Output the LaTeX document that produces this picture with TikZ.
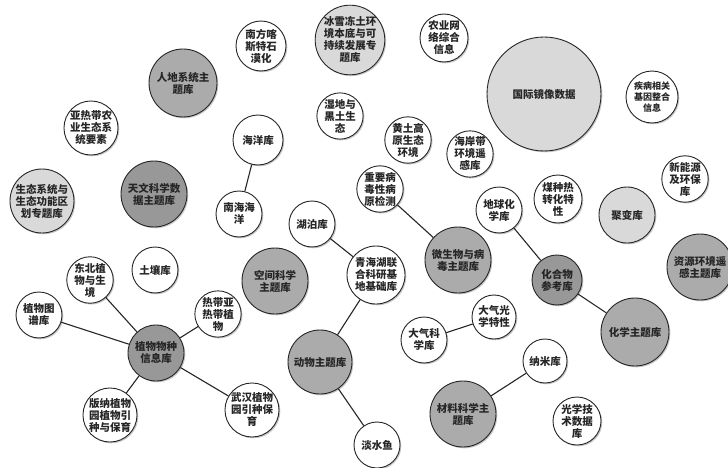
\documentclass[tikz,border=0pt]{standalone}
\usepackage{fontspec}
\newfontfamily\cjk{Noto Sans CJK SC}
\usetikzlibrary{shadows}
\definecolor{gdark}{HTML}{989898}
\definecolor{gmid}{HTML}{ABABAB}
\definecolor{glight}{HTML}{D9D9D9}
\tikzset{
  bub/.style={circle, draw=black!85, line width=0.9pt, inner sep=0pt, align=center,
    font=\cjk\bfseries\fontsize{10.5}{12}\selectfont, text=black!85,
    drop shadow={shadow xshift=1.3pt, shadow yshift=-1.3pt, fill=black, opacity=0.22}},
  wb/.style={bub, fill=white},
  mb/.style={bub, fill=gmid},
  db/.style={bub, fill=gdark},
  lb/.style={bub, fill=glight},
  link/.style={draw=black!85, line width=1.1pt},
}
\newcommand{\bb}[6]{\node[#1, minimum size=#5*2pt] (#2) at (#3,#4) {#6};}
\begin{document}
\begin{tikzpicture}[x=1pt,y=-1pt]
\fill[white] (0,0) rectangle (728,468);
\useasboundingbox (0,0) rectangle (728,468);
\bb{mb}{rendi}{183}{83}{34}{人地系统主\\题库}
\bb{wb}{yare}{91}{128}{27}{亚热带农\\业生态系\\统要素}
\bb{wb}{nanfang}{261}{46}{25}{南方喀\\斯特石\\漠化}
\bb{lb}{bingxue}{350}{40}{34}{冰雪冻土环\\境本底与可\\持续发展专\\题库}
\bb{wb}{nongye}{444}{38}{24}{农业网\\络综合\\信息}
\bb{lb}{guoji}{544}{94}{57}{国际镜像数据}
\node[wb, minimum size=52pt, font=\cjk\bfseries\fontsize{9}{11}\selectfont] (jibing) at (652,97) {疾病相关\\基因整合\\信息};
\bb{wb}{shidi}{340}{116}{23}{湿地与\\黑土生\\态}
\bb{wb}{haiyang}{258}{140}{25}{海洋库}
\bb{wb}{nanhai}{239}{214}{23}{南海海\\洋}
\bb{wb}{huangtu}{408}{140}{23}{黄土高\\原生态\\环境}
\bb{wb}{haian}{470}{154}{22}{海岸带\\环境遥\\感库}
\bb{lb}{shengtai}{42}{201}{32}{生态系统与\\生态功能区\\划专题库}
\bb{db}{tianwen}{154}{194}{33}{天文科学数\\据主题库}
\bb{wb}{hubo}{312}{224}{23}{湖泊库}
\bb{wb}{bingdu}{380}{189}{23}{重要病\\毒性病\\原检测}
\bb{wb}{diqiu}{499}{210}{23}{地球化\\学库}
\bb{wb}{meizhong}{558}{199}{24}{煤种热\\转化特\\性}
\bb{lb}{jubian}{627}{215}{28}{聚变库}
\bb{wb}{xinneng}{685}{179}{23}{新能源\\及环保\\库}
\bb{mb}{ziyuan}{700}{267}{33}{资源环境遥\\感主题库}
\bb{mb}{kongjian}{275}{281}{33}{空间科学\\主题库}
\bb{wb}{qinghai}{376}{275}{29}{青海湖联\\合科研基\\地基础库}
\bb{mb}{weisheng}{458}{260}{33}{微生物与病\\毒主题库}
\bb{db}{huahewu}{557}{280}{25}{化合物\\参考库}
\bb{mb}{huaxue}{635}{332}{34}{化学主题库}
\bb{wb}{dongbei}{90}{280}{23}{东北植\\物与生\\境}
\bb{wb}{turang}{155}{270}{23}{土壤库}
\bb{wb}{tupu}{39}{315}{23}{植物图\\谱库}
\bb{db}{zhiwu}{156}{353}{28}{植物物种\\信息库}
\bb{wb}{redai}{218}{314}{23}{热带亚\\热带植\\物}
\bb{wb}{banna}{110}{415}{27}{版纳植物\\园植物引\\种与保育}
\bb{wb}{wuhan}{252}{410}{25}{武汉植物\\园引种保\\育}
\bb{mb}{dongwu}{320}{362}{32}{动物主题库}
\bb{wb}{danshui}{377}{445}{23}{淡水鱼}
\bb{wb}{daqi}{424}{340}{23}{大气科\\学库}
\bb{wb}{guangxue}{494}{317}{22}{大气光\\学特性}
\bb{wb}{nami}{545}{361}{22}{纳米库}
\bb{mb}{cailiao}{463}{414}{33}{材料科学主\\题库}
\bb{wb}{guangji}{577}{421}{24}{光学技\\术数据\\库}
\path[link] (haiyang) -- (nanhai);
\path[link] (hubo) -- (qinghai);
\path[link] (bingdu) -- (weisheng);
\path[link] (diqiu) -- (huahewu);
\path[link] (huahewu) -- (huaxue);
\path[link] (qinghai) -- (dongwu);
\path[link] (dongwu) -- (danshui);
\path[link] (zhiwu) -- (dongbei);
\path[link] (zhiwu) -- (tupu);
\path[link] (zhiwu) -- (redai);
\path[link] (zhiwu) -- (banna);
\path[link] (zhiwu) -- (wuhan);
\path[link] (daqi) -- (guangxue);
\path[link] (cailiao) -- (nami);
\end{tikzpicture}
\end{document}
